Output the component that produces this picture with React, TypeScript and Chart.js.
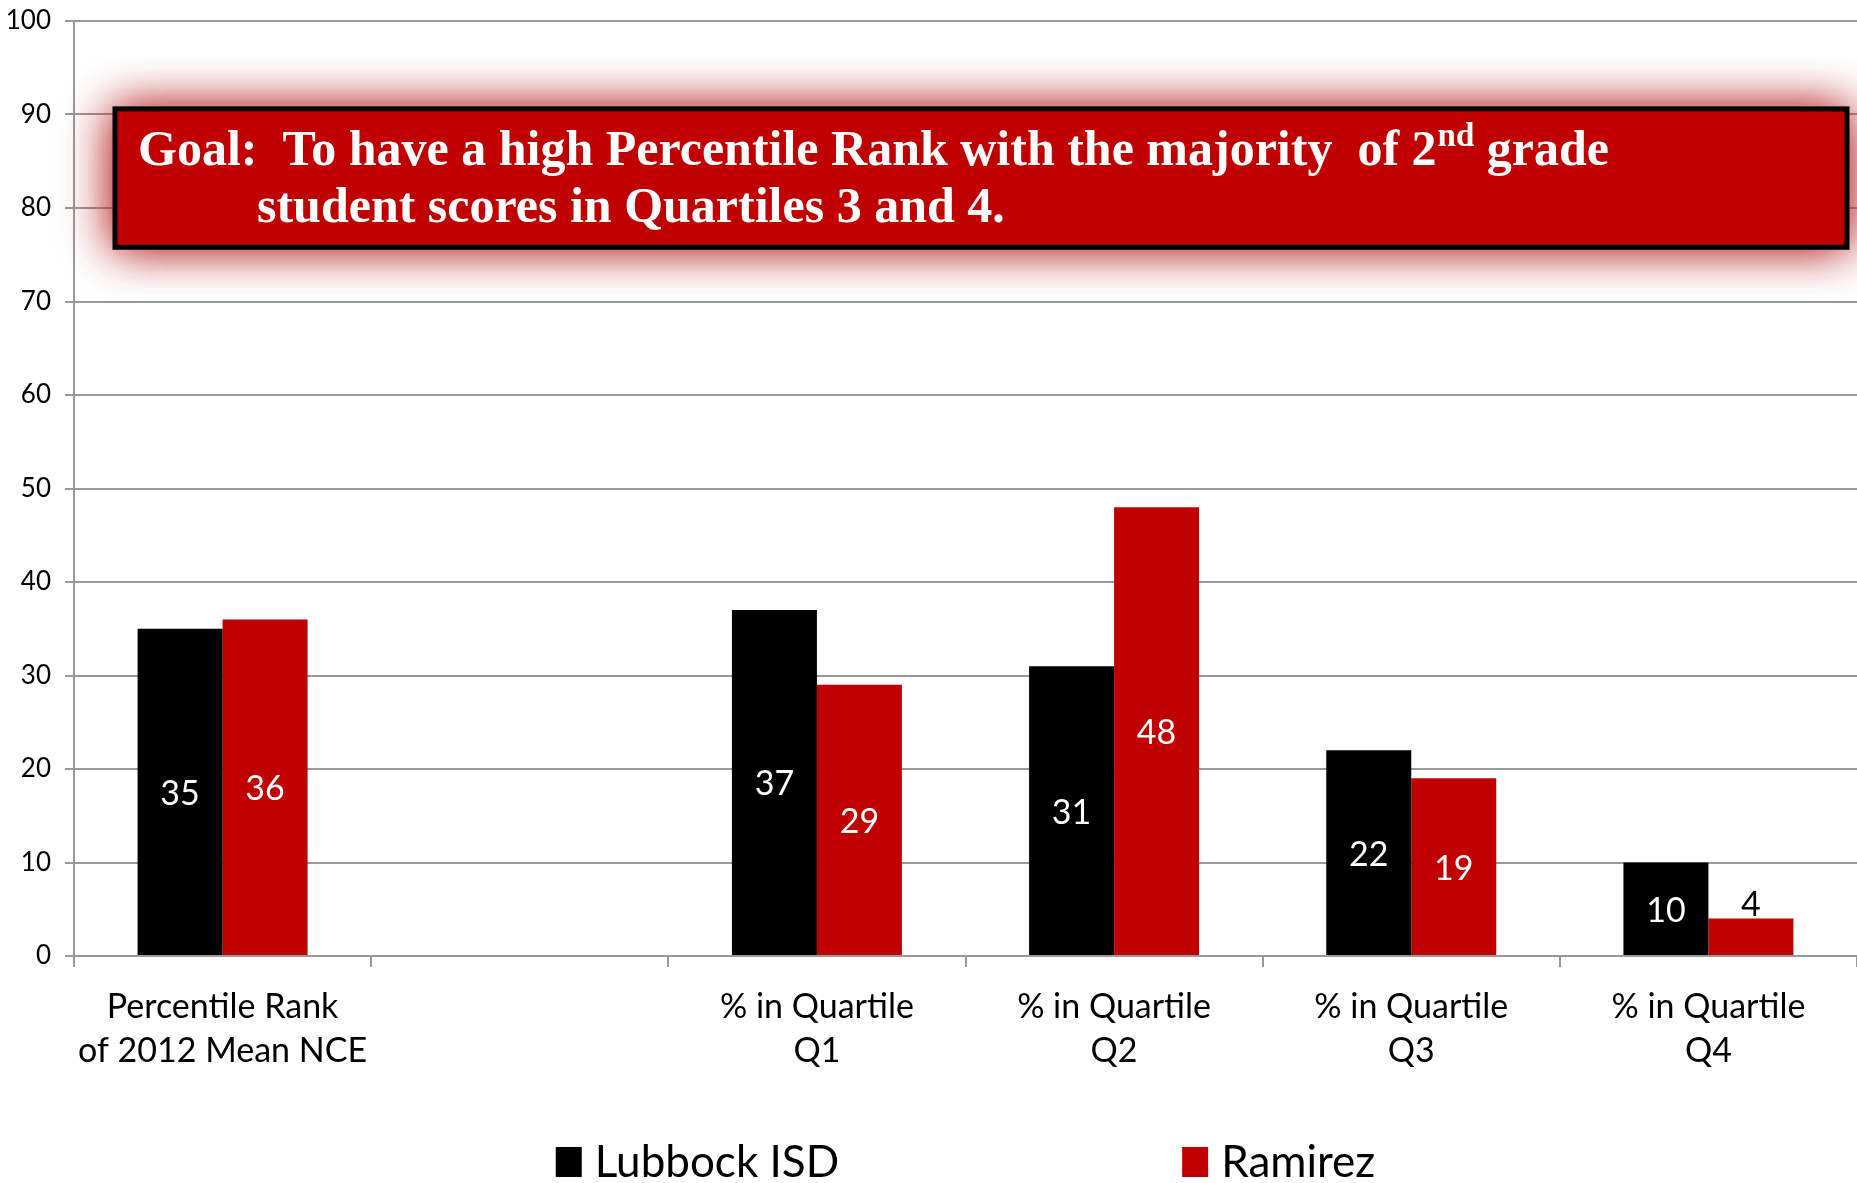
import React, { useEffect, useRef } from "react";
import { Chart, registerables } from "chart.js";

Chart.register(...registerables);

const categories: (string | string[])[] = [
  ["Percentile Rank", "of 2012 Mean NCE"],
  "",
  ["% in Quartile", "Q1"],
  ["% in Quartile", "Q2"],
  ["% in Quartile", "Q3"],
  ["% in Quartile", "Q4"],
];
const seriesNames = ["Lubbock ISD", "Ramirez"];
const lubbock: (number | null)[] = [35, null, 37, 31, 22, 10];
const ramirez: (number | null)[] = [36, null, 29, 48, 19, 4];
const seriesColors = ["#000000", "#C00000"];
const goalLine1a = "Goal:  To have a high Percentile Rank with the majority  of 2";
const goalSup = "nd";
const goalLine1b = " grade";
const goalLine2 = "student scores in Quartiles 3 and 4.";

const SANS = "Lato, 'Open Sans', sans-serif";
const SERIF = "'Liberation Serif', 'DejaVu Serif', serif";

const barLabelPlugin = {
  id: "barLabels",
  afterDatasetsDraw(chart: any) {
    const { ctx } = chart;
    ctx.save();
    ctx.font = `34px ${SANS}`;
    ctx.textAlign = "center";
    ctx.textBaseline = "middle";
    chart.data.datasets.forEach((ds: any, di: number) => {
      const meta = chart.getDatasetMeta(di);
      meta.data.forEach((bar: any, i: number) => {
        const v = ds.data[i];
        if (v == null) return;
        const h = bar.base - bar.y;
        if (h > 45) {
          ctx.fillStyle = "#ffffff";
          ctx.fillText(String(v), bar.x, (bar.y + bar.base) / 2 + 2);
        } else {
          ctx.fillStyle = "#000000";
          ctx.fillText(String(v), bar.x, bar.y - 14);
        }
      });
    });
    ctx.restore();
  },
};

const goalPlugin = {
  id: "goalBox",
  afterDraw(chart: any) {
    const { ctx, chartArea: a } = chart;
    const y = chart.scales.y;
    const left = a.left + 41;
    const right = a.right - 10;
    const top = y.getPixelForValue(90.6);
    const bottom = y.getPixelForValue(75.8);
    ctx.save();
    ctx.shadowColor = "rgba(185,40,40,0.85)";
    ctx.shadowBlur = 45;
    ctx.fillStyle = "#C00000";
    ctx.fillRect(left, top, right - left, bottom - top);
    ctx.fillRect(left, top, right - left, bottom - top);
    ctx.shadowBlur = 0;
    ctx.shadowColor = "transparent";
    ctx.lineWidth = 5;
    ctx.strokeStyle = "#000000";
    ctx.strokeRect(left, top, right - left, bottom - top);

    ctx.fillStyle = "#ffffff";
    ctx.textBaseline = "alphabetic";
    ctx.textAlign = "left";
    const fs = 50;
    ctx.font = `bold ${fs}px ${SERIF}`;
    let x = left + 23;
    const b1 = top + 56;
    ctx.fillText(goalLine1a, x, b1);
    x += ctx.measureText(goalLine1a).width;
    ctx.font = `bold ${Math.round(fs * 0.65)}px ${SERIF}`;
    ctx.fillText(goalSup, x + 1, b1 - 19);
    x += ctx.measureText(goalSup).width + 1;
    ctx.font = `bold ${fs}px ${SERIF}`;
    ctx.fillText(goalLine1b, x, b1);
    ctx.fillText(goalLine2, left + 142, b1 + 57);
    ctx.restore();
  },
};

const legendPlugin = {
  id: "customLegend",
  afterDraw(chart: any) {
    const { ctx, chartArea: a } = chart;
    ctx.save();
    ctx.font = `44px ${SANS}`;
    ctx.textBaseline = "middle";
    ctx.textAlign = "left";
    const box = 26;
    const gapText = 13;
    const gapItems = 343;
    const widths = seriesNames.map((n) => box + gapText + ctx.measureText(n).width);
    const total = widths.reduce((s, w) => s + w, 0) + gapItems * (widths.length - 1);
    let x = (a.left + a.right) / 2 - total / 2;
    const cy = 1162;
    seriesNames.forEach((n, i) => {
      ctx.fillStyle = seriesColors[i];
      ctx.fillRect(x, cy - 15, box, 30);
      ctx.fillStyle = "#000000";
      ctx.fillText(n, x + box + gapText, cy + 1);
      x += widths[i] + gapItems;
    });
    ctx.restore();
  },
};

export default function App() {
  const ref = useRef<HTMLCanvasElement | null>(null);
  useEffect(() => {
    if (!ref.current) return;
    const chart = new Chart(ref.current, {
      type: "bar",
      data: {
        labels: categories as any,
        datasets: [
          {
            label: seriesNames[0],
            data: lubbock,
            backgroundColor: seriesColors[0],
            categoryPercentage: 0.572,
            barPercentage: 1,
          },
          {
            label: seriesNames[1],
            data: ramirez,
            backgroundColor: seriesColors[1],
            categoryPercentage: 0.572,
            barPercentage: 1,
          },
        ],
      },
      options: {
        animation: false,
        responsive: false,
        maintainAspectRatio: false,
        layout: { padding: { top: 21, right: 0, bottom: 0, left: 0 } },
        plugins: {
          legend: { display: false },
          tooltip: { enabled: false },
          title: { display: false },
        },
        scales: {
          x: {
            grid: {
              display: true,
              drawOnChartArea: false,
              drawTicks: true,
              tickLength: 11,
              color: "#999999",
              lineWidth: 2,
              offset: true,
            },
            border: { display: true, color: "#999999", width: 2 },
            ticks: {
              color: "#000000",
              font: { family: SANS, size: 34, lineHeight: 1.3 },
              padding: 18,
              maxRotation: 0,
              autoSkip: false,
            },
            afterFit(scale: any) {
              scale.height = 227;
              scale.paddingLeft = 0;
              scale.paddingRight = 0;
            },
          },
          y: {
            min: 0,
            max: 100,
            grid: {
              color: "#999999",
              lineWidth: 2,
              drawTicks: true,
              tickLength: 9,
            },
            border: { display: true, color: "#999999", width: 2 },
            ticks: {
              stepSize: 10,
              color: "#000000",
              font: { family: SANS, size: 26 },
              padding: 14,
            },
            afterFit(scale: any) {
              scale.width = 74;
              scale.paddingTop = 0;
              scale.paddingBottom = 0;
            },
          },
        },
      },
      plugins: [barLabelPlugin, goalPlugin, legendPlugin],
    });
    return () => chart.destroy();
  }, []);
  return (
    <div style={{ position: "fixed", left: 0, top: 0, width: 1857, height: 1183, background: "#ffffff" }}>
      <canvas ref={ref} width={1857} height={1183} style={{ display: "block", width: 1857, height: 1183 }} />
    </div>
  );
}
